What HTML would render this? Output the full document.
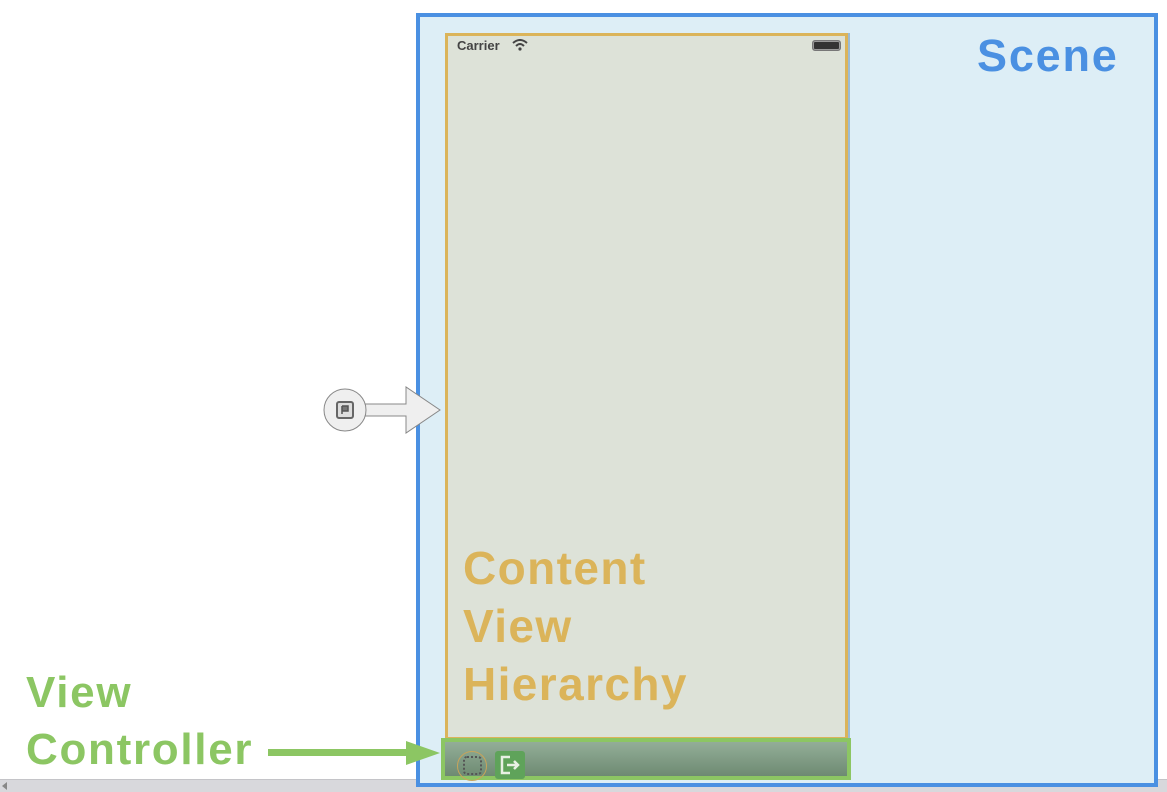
<!DOCTYPE html>
<html><head><style>
body{margin:0;width:1167px;height:792px;background:#fff;position:relative;overflow:hidden;font-family:"Liberation Sans",sans-serif}
div{position:absolute;box-sizing:border-box}
.b{font-weight:bold}
</style></head><body>
<div style="left:0;top:779px;width:1167px;height:13px;background:#d8d8dc;border-top:1px solid #c4c4c8"></div>
<div style="left:2px;top:782px;width:0;height:0;border-top:4px solid transparent;border-bottom:4px solid transparent;border-right:5px solid #888"></div>
<div style="left:416px;top:13px;width:742px;height:774px;border:4px solid #4a90e2;background:#ddeef6"></div>
<div style="left:848px;top:33px;width:2px;height:707px;background:#9bbbd6"></div>
<div style="left:445px;top:33px;width:403px;height:707px;border:3px solid #dbb45a;background:#dde2d8"></div>
<div style="left:457px;top:38px;font-size:13px;color:#444" class="b">Carrier</div>
<svg style="position:absolute;left:512px;top:39px" width="16" height="12"><path d="M1 4 Q8 -2 15 4" stroke="#444" stroke-width="2" fill="none"/><path d="M4 7 Q8 3 12 7" stroke="#444" stroke-width="2" fill="none"/><circle cx="8" cy="10" r="1.6" fill="#444"/></svg>
<div style="left:812px;top:40px;width:29px;height:11px;border:1px solid #777;border-radius:3px;background:#333;box-shadow:inset 0 0 0 1px #999"></div>
<div style="left:441px;top:738px;width:410px;height:42px;border:4px solid #8cc663;background:linear-gradient(#93ae98,#6e8a72)"></div>
<div style="left:457px;top:751px;width:30px;height:30px;border:1px solid #c8a45a;border-radius:50%"></div>
<div style="left:463px;top:756px;width:19px;height:19px;border:2px dotted #555;border-radius:4px"></div>
<div style="left:495px;top:751px;width:30px;height:28px;background:#5fa35a;border-radius:3px"></div>
<svg style="position:absolute;left:498px;top:753px" width="24" height="24"><path d="M12 4 H4 V20 H12" stroke="#e8f0e4" stroke-width="2.5" fill="none"/><path d="M9 12 H20 M16 8 L20 12 L16 16" stroke="#e8f0e4" stroke-width="2.5" fill="none"/></svg>
<svg style="position:absolute;left:320px;top:384px" width="125" height="52"><path d="M42 20 H86 V3 L120 26 L86 49 V32 H42 Z" fill="#efefef" stroke="#888" stroke-width="1"/><circle cx="25" cy="26" r="21" fill="#efefef" stroke="#888"/><rect x="17" y="18" width="16" height="16" rx="2" fill="#ddd" stroke="#666" stroke-width="2"/><path d="M22 22 V30 M22 22 H28 V27 H22" stroke="#555" stroke-width="1.5" fill="#777"/></svg>
<div class="b" style="left:977px;top:30px;font-size:45px;color:#4a90e2;letter-spacing:1.8px">Scene</div>
<div class="b" style="left:463px;top:539px;font-size:46px;line-height:58px;color:#dbb45a;letter-spacing:1.4px">Content<br>View<br>Hierarchy</div>
<div class="b" style="left:26px;top:664px;font-size:44px;line-height:57px;color:#8cc663;letter-spacing:1.7px">View<br>Controller</div>
<div style="left:268px;top:749px;width:140px;height:7px;background:#8cc663"></div>
<div style="left:406px;top:741px;width:0;height:0;border-top:12px solid transparent;border-bottom:12px solid transparent;border-left:34px solid #8cc663"></div>
</body></html>
